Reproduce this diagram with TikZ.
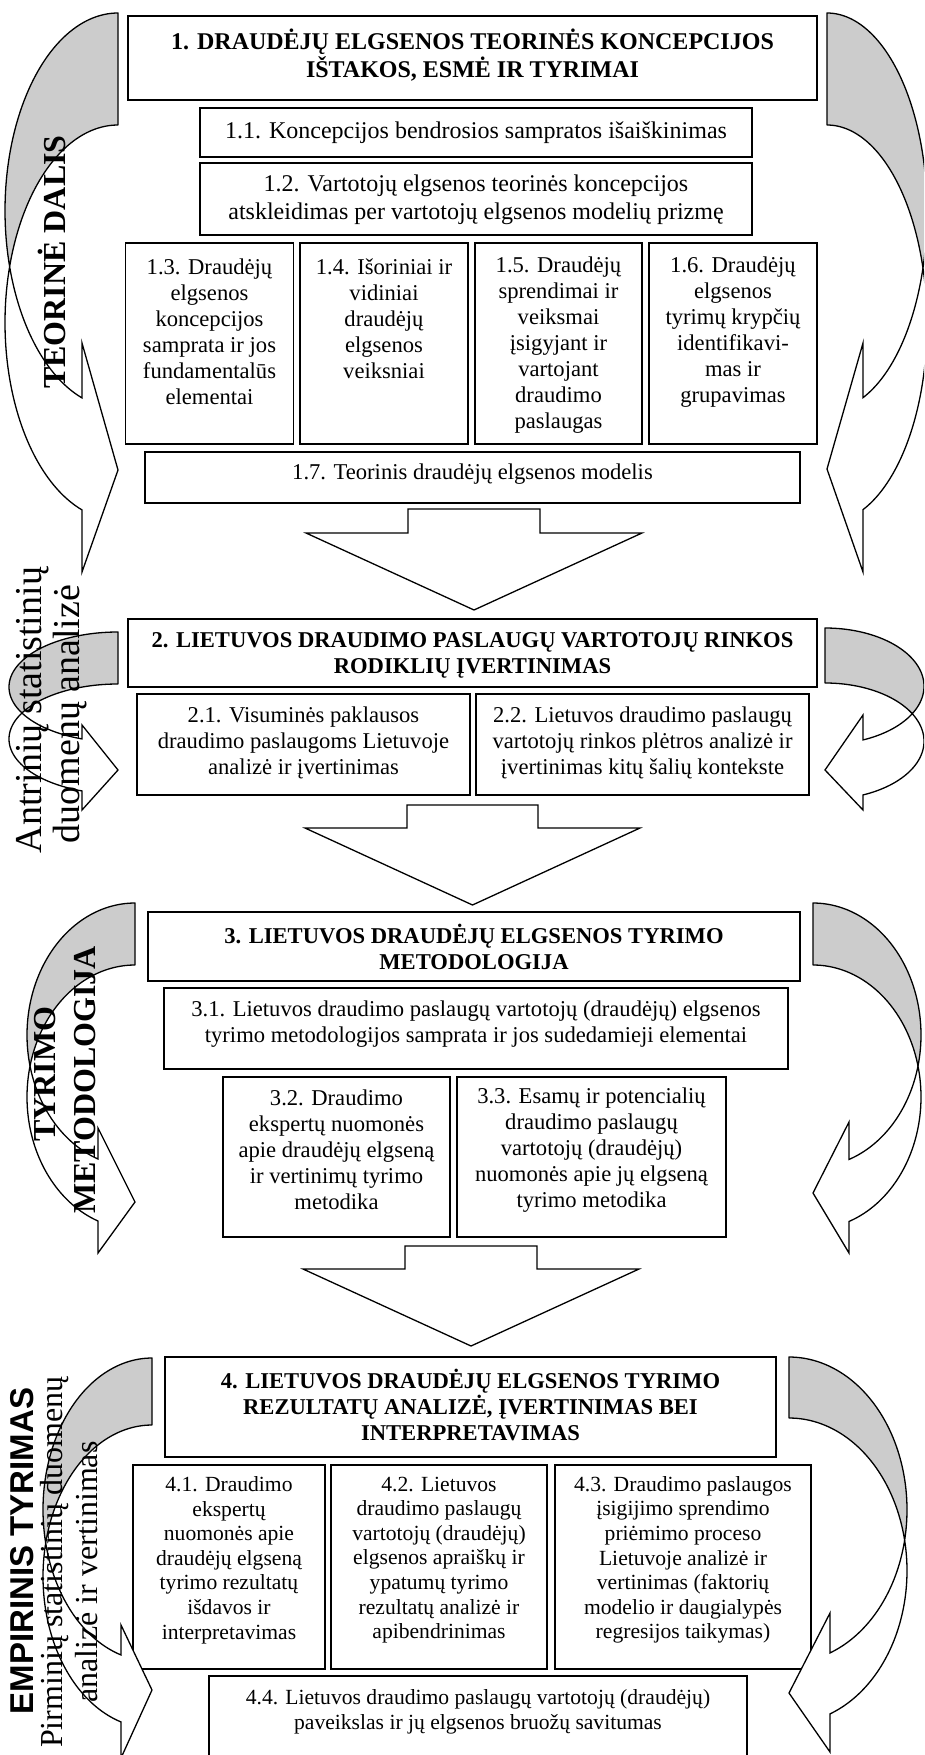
\documentclass[tikz,border=0pt]{standalone}
\usepackage{fontspec}
\setmainfont{Liberation Serif}
\newfontfamily\sansf{Liberation Sans}
\newcommand{\fA}{\fontsize{24}{27.6}\selectfont}
\newcommand{\fB}{\fontsize{22.6}{26}\selectfont}
\newcommand{\fC}{\fontsize{21.6}{24.6}\selectfont}
% curved side arrow: X, T, th, A, B, Xb, upper barb y, tip y, lower barb y
\newcommand{\cshape}[9]{%
 \pgfmathsetmacro{\CA}{#2+#5}%
 \pgfmathsetmacro{\CB}{#2+#3+#5}%
 \pgfmathsetmacro{\PA}{acos(-(#3)/(2*(#5)))}%
 \pgfmathsetmacro{\PB}{acos((#3)/(2*(#5)))}%
 \pgfmathsetmacro{\PE}{180-asin((#6-#1)/(#4))}%
 \filldraw[backst] plot[domain=0:\PA,samples=60] ({#1+(#4)*sin(\x)},{\CA-(#5)*cos(\x)})
   -- plot[domain=\PB:0,samples=60] ({#1+(#4)*sin(\x)},{\CB-(#5)*cos(\x)}) -- cycle;
 \filldraw[frontst] plot[domain=\PA:\PE,samples=60] ({#1+(#4)*sin(\x)},{\CA-(#5)*cos(\x)})
   -- (#6,#7) -- (#1,#8) -- (#6,#9)
   -- plot[domain=\PE:\PB,samples=60] ({#1+(#4)*sin(\x)},{\CB-(#5)*cos(\x)}) -- cycle;
}
\newcommand{\boxnode}[5]{%
 \pgfmathsetmacro{\BW}{#4-#2}\pgfmathsetmacro{\BH}{#5-#3}%
 \node[bx, minimum width=\BW pt, minimum height=\BH pt] (#1) at ({(#2+#4)/2},{(#3+#5)/2}) {};}
\newcommand{\downarr}[5]{% stem left, stem right, top, shoulder, tip
 \pgfmathsetmacro{\DM}{(#1+#2)/2}%
 \filldraw[arrst] (#1,#3) -- (#2,#3) -- (#2,#4) -- ({#2+102},#4) -- (\DM,#5) -- ({#1-102},#4) -- (#1,#4) -- cycle;}
\begin{document}
\begin{tikzpicture}[x=1pt,y=-1pt,
  bx/.style={draw=black, line width=1.6pt, fill=white, inner sep=0pt},
  backst/.style={fill=black!20, draw=black, line width=1.3pt, line join=round},
  frontst/.style={fill=white, draw=black, line width=1.3pt, line join=miter},
  arrst/.style={fill=white, draw=black, line width=1.3pt, line join=miter},
  txt/.style={align=center, inner sep=0pt, font=\fB},
  txtA/.style={align=center, inner sep=0pt, font=\fA},
  txtC/.style={align=center, inner sep=0pt, font=\fC},
  side/.style={rotate=90, anchor=base, inner sep=0pt}]
\useasboundingbox (0,0) rectangle (924,1755);
\begin{scope}
\clip (0,0) rectangle (924,1755);
\fill[white] (0,0) rectangle (924,1755);
% ---------- boxes ----------
\boxnode{b1}{128}{16}{817}{100}
\boxnode{b11}{200}{108}{752}{157}
\boxnode{b12}{200}{163}{752}{235}
\boxnode{b13}{125.5}{243}{293.5}{444}
\boxnode{b14}{300}{243}{468}{444}
\boxnode{b15}{475}{243}{642}{444}
\boxnode{b16}{649}{243}{817}{444}
\boxnode{b17}{145}{452}{800}{503}
\boxnode{b2}{128}{619}{817}{687}
\boxnode{b21}{137}{694}{470}{795}
\boxnode{b22}{476}{694}{809}{795}
\boxnode{b3}{148}{912}{800}{981}
\boxnode{b31}{164}{988}{788}{1069}
\boxnode{b32}{223}{1077}{450}{1237}
\boxnode{b33}{457}{1077}{726}{1237}
\boxnode{b4}{165}{1357}{776}{1457}
\boxnode{b41}{133}{1465}{325}{1669}
\boxnode{b42}{331}{1465}{547}{1669}
\boxnode{b43}{555}{1465}{811}{1669}
\boxnode{b44}{209}{1676}{747}{1790}
% ---------- texts in boxes ----------
\node[txtA, font=\fA\bfseries] (t1) at (472.5,55) {1. DRAUDĖJŲ ELGSENOS TEORINĖS KONCEPCIJOS\\IŠTAKOS, ESMĖ IR TYRIMAI};
\node[txtA] (t11) at (476,133) {1.1. Koncepcijos bendrosios sampratos išaiškinimas};
\node[txtA] (t12) at (476,200) {1.2. Vartotojų elgsenos teorinės koncepcijos\\atskleidimas per vartotojų elgsenos modelių prizmę};
\node[txt] (t13) at (209.5,332) {1.3. Draudėjų\\elgsenos\\koncepcijos\\samprata ir jos\\fundamentalūs\\elementai};
\node[txt] (t14) at (384,319) {1.4. Išoriniai ir\\vidiniai\\draudėjų\\elgsenos\\veiksniai};
\node[txt] (t15) at (558.5,345) {1.5. Draudėjų\\sprendimai ir\\veiksmai\\įsigyjant ir\\vartojant\\draudimo\\paslaugas};
\node[txt] (t16) at (733,332) {1.6. Draudėjų\\elgsenos\\tyrimų krypčių\\identifikavi-\\mas ir\\grupavimas};
\node[txt] (t17) at (472.5,474) {1.7. Teorinis draudėjų elgsenos modelis};
\node[txt, font=\fB\bfseries] (t2) at (472.5,655) {2. LIETUVOS DRAUDIMO PASLAUGŲ VARTOTOJŲ RINKOS\\RODIKLIŲ ĮVERTINIMAS};
\node[txt] (t21) at (303.5,743) {2.1. Visuminės paklausos\\draudimo paslaugoms Lietuvoje\\analizė ir įvertinimas};
\node[txt] (t22) at (642.5,743) {2.2. Lietuvos draudimo paslaugų\\vartotojų rinkos plėtros analizė ir\\įvertinimas kitų šalių kontekste};
\node[txt, font=\fB\bfseries] (t3) at (474,947) {3. LIETUVOS DRAUDĖJŲ ELGSENOS TYRIMO\\METODOLOGIJA};
\node[txt] (t31) at (476,1024) {3.1. Lietuvos draudimo paslaugų vartotojų (draudėjų) elgsenos\\tyrimo metodologijos samprata ir jos sudedamieji elementai};
\node[txt] (t32) at (336.5,1150) {3.2. Draudimo\\ekspertų nuomonės\\apie draudėjų elgseną\\ir vertinimų tyrimo\\metodika};
\node[txt] (t33) at (591.5,1150) {3.3. Esamų ir potencialių\\draudimo paslaugų\\vartotojų (draudėjų)\\nuomonės apie jų elgseną\\tyrimo metodika};
\node[txt, font=\fB\bfseries] (t4) at (470.5,1405) {4. LIETUVOS DRAUDĖJŲ ELGSENOS TYRIMO\\REZULTATŲ ANALIZĖ, ĮVERTINIMAS BEI\\INTERPRETAVIMAS};
\node[txtC] (t41) at (229,1560) {4.1. Draudimo\\ekspertų\\nuomonės apie\\draudėjų elgseną\\tyrimo rezultatų\\išdavos ir\\interpretavimas};
\node[txtC] (t42) at (439,1560) {4.2. Lietuvos\\draudimo paslaugų\\vartotojų (draudėjų)\\elgsenos apraiškų ir\\ypatumų tyrimo\\rezultatų analizė ir\\apibendrinimas};
\node[txtC] (t43) at (683,1560) {4.3. Draudimo paslaugos\\įsigijimo sprendimo\\priėmimo proceso\\Lietuvoje analizė ir\\vertinimas (faktorių\\modelio ir daugialypės\\regresijos taikymas)};
\node[txtC] (t44) at (478,1712) {4.4. Lietuvos draudimo paslaugų vartotojų (draudėjų)\\paveikslas ir jų elgsenos bruožų savitumas};
% ---------- block arrows down ----------
\downarr{408}{540}{509}{533}{610}
\downarr{407}{538}{805}{828}{905}
\downarr{405}{537}{1246}{1269}{1346}
% ---------- curved side arrows ----------
\cshape{118}{13}{112}{-113}{197.6}{82}{343}{470}{572}
\cshape{827}{13}{112}{100}{199}{863}{343}{469}{572}
\cshape{118}{632}{52}{-109}{55}{82}{725}{770}{810}
\cshape{825}{628}{55}{99}{58.2}{863}{715}{770}{810}
\cshape{135}{903}{62}{-108}{132}{98}{1128}{1202}{1253}
\cshape{813}{903}{62}{108}{132}{849}{1122}{1193}{1253}
\cshape{152}{1358}{67}{-109}{151.6}{121}{1625}{1690}{1758}
\cshape{789}{1357}{61}{118}{152.7}{830}{1613}{1693}{1752}
% ---------- side labels ----------
\node[side, font=\fontsize{32}{36}\selectfont\bfseries] (s1) at (65,262) {TEORINĖ DALIS};
\node[side, font=\fontsize{38}{40}\selectfont] (s2a) at (41,710) {Antrinių statistinių};
\node[side, font=\fontsize{38}{40}\selectfont] (s2b) at (79,714) {duomenų analizė};
\node[side, font=\fontsize{32}{36}\selectfont\bfseries] (s3a) at (55,1074) {TYRIMO};
\node[side, font=\fontsize{32}{36}\selectfont\bfseries] (s3b) at (95,1080) {METODOLOGIJA};
\node[side, font=\sansf\fontsize{33}{36}\selectfont\bfseries] (s4a) at (33,1551) {EMPIRINIS TYRIMAS};
\node[side, font=\fontsize{32}{36}\selectfont] (s4b) at (62,1562) {Pirminių statistinių duomenų};
\node[side, font=\fontsize{32}{36}\selectfont] (s4c) at (97,1572) {analizė ir vertinimas};
\end{scope}
\end{tikzpicture}
\end{document}
